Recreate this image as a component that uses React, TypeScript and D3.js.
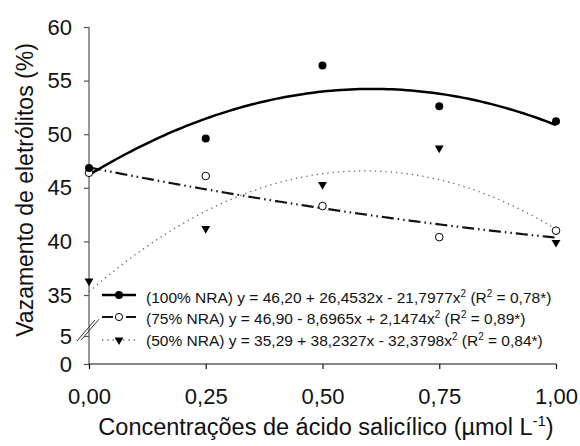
import { useEffect, useRef } from 'react'
import * as d3 from 'd3'

const W = 580
const H = 446

// dados
const doses = [0, 0.25, 0.5, 0.75, 1]
const nra100 = [46.85, 49.6, 56.4, 52.6, 51.2]
const nra75 = [46.4, 46.1, 43.3, 40.4, 41.0]
const nra50 = [36.3, 41.2, 45.3, 48.7, 39.9]

// coeficientes das regressões (b0, b1, b2)
const coef100 = [46.2, 26.4532, -21.7977]
const coef75 = [46.9, -8.6965, 2.1474]
const coef50 = [35.29, 38.2327, -32.3798]

const xTicks = [0, 0.25, 0.5, 0.75, 1]
const yTicksTop = [35, 40, 45, 50, 55, 60]
const yTicksBot = [0, 5]

const legendLabels = [
  { head: '(100% NRA) y = 46,20 + 26,4532x - 21,7977x', r2: '0,78*' },
  { head: '(75% NRA) y = 46,90 - 8,6965x + 2,1474x', r2: '0,89*' },
  { head: '(50% NRA) y = 35,29 + 38,2327x - 32,3798x', r2: '0,84*' },
]

const FONT = 'Liberation Sans, Arial, sans-serif'

export default function App() {
  const svgRef = useRef<SVGSVGElement>(null)

  useEffect(() => {
    const svg = svgRef.current
    if (!svg) return
    const sel = d3.select(svg)
    sel.selectAll('*').remove()

    const x0 = 89, x1 = 556
    const x = d3.scaleLinear().domain([0, 1]).range([x0, x1])
    const yTop = d3.scaleLinear().domain([35, 60]).range([295, 27])
    const yBot = d3.scaleLinear().domain([0, 5]).range([364, 336])
    const y = (v: number) => (v >= 34 ? yTop(v) : yBot(v))

    // eixo y (linha contínua)
    sel.append('line')
      .attr('x1', x0).attr('x2', x0).attr('y1', yTop(60)).attr('y2', yBot(0))
      .attr('stroke', '#555').attr('stroke-width', 1.2)

    const styleY = (ag: d3.Selection<SVGGElement, unknown, null, undefined>) => {
      ag.select('.domain').remove()
      ag.selectAll('.tick line').attr('stroke', '#555').attr('stroke-width', 1.2)
      ag.selectAll('text').attr('fill', '#111').attr('font-size', 22).attr('font-family', FONT)
    }
    sel.append('g').attr('transform', `translate(${x0},0)`)
      .call(d3.axisLeft(yTop).tickValues(yTicksTop).tickSize(5).tickPadding(12).tickFormat(d => `${d}`))
      .call(styleY)
    sel.append('g').attr('transform', `translate(${x0},0)`)
      .call(d3.axisLeft(yBot).tickValues(yTicksBot).tickSize(5).tickPadding(12).tickFormat(d => `${d}`))
      .call(styleY)

    // marca de quebra
    ;[0, 4].forEach(off => {
      sel.append('line')
        .attr('x1', 77 + off).attr('y1', 341 - off * 0.2)
        .attr('x2', 95 + off).attr('y2', 320 - off * 0.2)
        .attr('stroke', '#333').attr('stroke-width', 1)
    })

    // eixo x
    sel.append('g').attr('transform', `translate(0,${yBot(0)})`)
      .call(d3.axisBottom(x).tickValues(xTicks).tickSize(5).tickPadding(19)
        .tickFormat(d => d3.format('.2f')(d as number).replace('.', ',')))
      .call(ag => {
        ag.select('.domain').attr('stroke', '#111').attr('stroke-width', 1.2)
          .attr('d', `M${x0},0H${x1}`)
        ag.selectAll('.tick line').attr('stroke', '#111').attr('stroke-width', 1.2)
        ag.selectAll('text').attr('fill', '#111').attr('font-size', 22).attr('font-family', FONT)
      })

    // curvas de regressão
    const grid = d3.range(0, 1.0001, 0.01)
    const poly = (c: number[]) => (t: number) => c[0] + c[1] * t + c[2] * t * t
    const line = (c: number[]) => d3.line<number>().x(t => x(t)).y(t => y(poly(c)(t)))(grid)

    sel.append('path').attr('d', line(coef50)).attr('fill', 'none')
      .attr('stroke', '#666').attr('stroke-width', 1.3).attr('stroke-dasharray', '1.3,4')
    sel.append('path').attr('d', line(coef75)).attr('fill', 'none')
      .attr('stroke', '#111').attr('stroke-width', 2.2).attr('stroke-dasharray', '12,4,1.5,4,1.5,4')
    sel.append('path').attr('d', line(coef100)).attr('fill', 'none')
      .attr('stroke', '#000').attr('stroke-width', 2.5)

    // marcadores
    const tri = d3.symbol().type(d3.symbolTriangle).size(34)
    const drawTri = (g: d3.Selection<SVGGElement, unknown, null, undefined>, cx: number, cy: number) =>
      g.append('path').attr('d', tri()).attr('transform', `translate(${cx},${cy}) rotate(180)`).attr('fill', '#000')

    const pts = sel.append('g')
    doses.forEach((d, i) => {
      drawTri(pts, x(d), y(nra50[i]))
      pts.append('circle').attr('cx', x(d)).attr('cy', y(nra75[i])).attr('r', 3.8)
        .attr('fill', '#fff').attr('stroke', '#000').attr('stroke-width', 1)
      pts.append('circle').attr('cx', x(d)).attr('cy', y(nra100[i])).attr('r', 4).attr('fill', '#000')
    })

    // legenda
    const lg = sel.append('g')
    const rowsY = [295, 317, 340]
    const textY = [302.5, 324, 345.5]
    const lx0 = 102, lx1 = 136, lmid = 119
    lg.append('line').attr('x1', lx0).attr('x2', lx1).attr('y1', rowsY[0]).attr('y2', rowsY[0])
      .attr('stroke', '#000').attr('stroke-width', 2.5)
    lg.append('circle').attr('cx', lmid).attr('cy', rowsY[0]).attr('r', 4).attr('fill', '#000')
    lg.append('path').attr('d', `M${lx0},${rowsY[1]}H${lmid - 6}M${lmid + 7},${rowsY[1]}H${lx1}`)
      .attr('stroke', '#111').attr('stroke-width', 2.2)
    lg.append('circle').attr('cx', lmid).attr('cy', rowsY[1]).attr('r', 3.6)
      .attr('fill', '#fff').attr('stroke', '#000').attr('stroke-width', 1)
    lg.append('line').attr('x1', lx0).attr('x2', lx1).attr('y1', rowsY[2]).attr('y2', rowsY[2])
      .attr('stroke', '#666').attr('stroke-width', 1.3).attr('stroke-dasharray', '1.3,4')
    drawTri(lg, lmid, rowsY[2])

    legendLabels.forEach((l, i) => {
      const t = lg.append('text').attr('x', 146).attr('y', textY[i])
        .attr('font-size', 15.5).attr('font-family', FONT).attr('fill', '#111')
      t.append('tspan').text(l.head)
      t.append('tspan').attr('dy', -6).attr('font-size', 10).text('2')
      t.append('tspan').attr('dy', 6).text(' (R')
      t.append('tspan').attr('dy', -6).attr('font-size', 10).text('2')
      t.append('tspan').attr('dy', 6).text(` = ${l.r2})`)
    })

    // títulos
    const xt = sel.append('text').attr('x', 326).attr('y', 435).attr('text-anchor', 'middle')
      .attr('font-size', 23.5).attr('font-family', FONT).attr('fill', '#111')
    xt.append('tspan').text('Concentrações de ácido salicílico (µmol L')
    xt.append('tspan').attr('dy', -9).attr('font-size', 15).text('-1')
    xt.append('tspan').attr('dy', 9).text(')')

    sel.append('text').attr('transform', 'translate(33,190) rotate(-90)').attr('text-anchor', 'middle')
      .attr('font-size', 23).attr('font-family', FONT).attr('fill', '#111')
      .text('Vazamento de eletrólitos (%)')
  }, [])

  return (
    <svg
      ref={svgRef}
      width={W}
      height={H}
      style={{ position: 'absolute', left: 0, top: 0, background: '#fff', display: 'block' }}
    />
  )
}
